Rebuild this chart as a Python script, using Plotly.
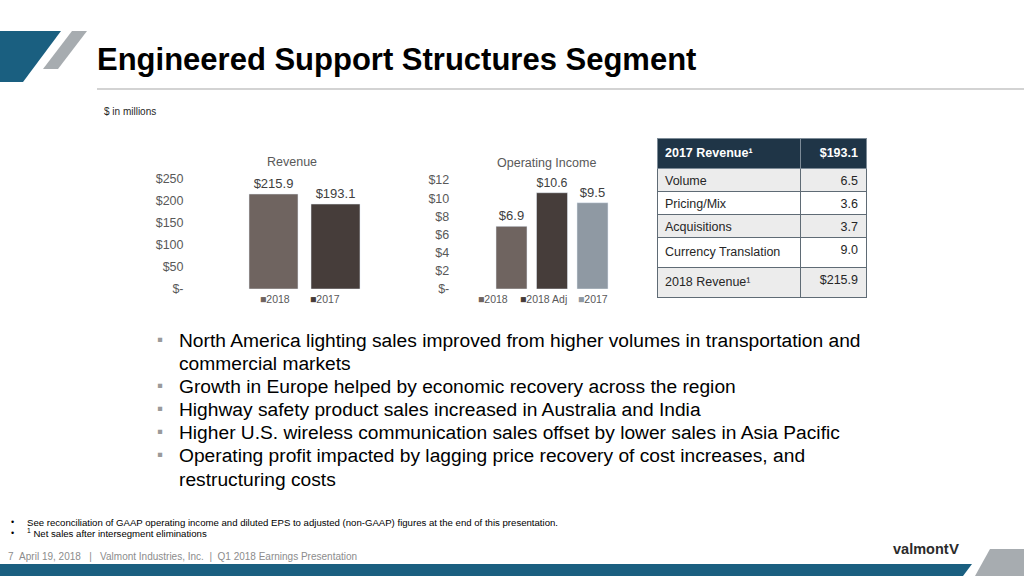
import plotly.graph_objects as go

# ---------------- data ----------------
rev_series = ["2018", "2017"]
rev_values = [215.9, 193.1]
rev_tickvals = [0, 50, 100, 150, 200, 250]
rev_ticktext = ["$-", "$50", "$100", "$150", "$200", "$250"]

oi_series = ["2018", "2018 Adj", "2017"]
oi_values = [6.9, 10.6, 9.5]
oi_tickvals = [0, 2, 4, 6, 8, 10, 12]
oi_ticktext = ["$-", "$2", "$4", "$6", "$8", "$10", "$12"]

tbl_header = ["2017 Revenue¹", "$193.1"]
tbl_labels = ["Volume", "Pricing/Mix", "Acquisitions", "Currency Translation", "2018 Revenue¹"]
tbl_values = ["6.5", "3.6", "3.7", "9.0", "$215.9"]

bullets = [
    ["North America lighting sales improved from higher volumes in transportation and",
     "commercial markets"],
    ["Growth in Europe helped by economic recovery across the region"],
    ["Highway safety product sales increased in Australia and India"],
    ["Higher U.S. wireless communication sales offset by lower sales in Asia Pacific"],
    ["Operating profit impacted by lagging price recovery of cost increases, and",
     "restructuring costs"],
]
footnotes = [
    "See reconciliation of GAAP operating income and diluted EPS to adjusted (non-GAAP) figures at the end of this presentation.",
    "<sup>1</sup> Net sales after intersegment eliminations",
]

# ---------------- styles ----------------
W, H = 1024, 576
FONT = "Arial, Liberation Sans, sans-serif"
C_TAUPE = "#6f6460"
C_DARK = "#463d3a"
C_BLUEGRAY = "#8f99a3"
rev_colors = [C_TAUPE, C_DARK]
oi_colors = [C_TAUPE, C_DARK, C_BLUEGRAY]
GRAY_TXT = "#595959"


def X(px):
    return px / W


def Y(py):
    return 1 - py / H


fig = go.Figure()

# Revenue bars
for s, v, c in zip(rev_series, rev_values, rev_colors):
    fig.add_trace(go.Bar(
        x=[s], y=[v], name=s, marker_color=c, width=0.79,
        text=[v], texttemplate="$%{y:.1f}", textposition="outside",
        textfont=dict(size=13, color="#404040", family=FONT),
        cliponaxis=False, showlegend=False, xaxis="x", yaxis="y",
    ))

# Operating income bars
for s, v, c in zip(oi_series, oi_values, oi_colors):
    fig.add_trace(go.Bar(
        x=[s], y=[v], name=s, marker_color=c, width=0.765,
        text=[v], texttemplate="$%{y:.1f}", textposition="outside",
        textfont=dict(size=13, color="#404040", family=FONT),
        cliponaxis=False, showlegend=False, xaxis="x2", yaxis="y2",
    ))

# Table (last two rows are taller in the original)
cell_labels = [l + ("<br>" if i >= 3 else "") for i, l in enumerate(tbl_labels)]
fig.add_trace(go.Table(
    domain=dict(x=[X(657), X(866)], y=[Y(320), Y(138)]),
    columnwidth=[143, 66],
    header=dict(
        values=["<b>%s</b>" % t for t in tbl_header],
        fill_color="#1f3547",
        line=dict(color="#7d8b97", width=1),
        font=dict(color="white", size=12.5, family=FONT),
        align=["left", "right"], height=30,
    ),
    cells=dict(
        values=[cell_labels, tbl_values],
        fill_color=[["#ececec", "#ffffff", "#ececec", "#ffffff", "#ececec"]] * 2,
        line=dict(color="#5f6b75", width=1),
        font=dict(color="#262626", size=12.5, family=FONT),
        align=["left", "right"], height=23,
    ),
))

axis_common = dict(showgrid=False, zeroline=False, showline=False, fixedrange=True, automargin=False)
fig.update_layout(
    width=W, height=H,
    margin=dict(l=0, r=0, t=0, b=0, pad=0, autoexpand=False),
    paper_bgcolor="white", plot_bgcolor="rgba(0,0,0,0)",
    barmode="overlay",
    font=dict(family=FONT, color=GRAY_TXT),
    showlegend=False,
    xaxis=dict(domain=[X(242.5), X(366.5)], range=[-0.5, 1.5], type="category",
               showticklabels=False, ticks="", **axis_common),
    yaxis=dict(domain=[Y(289), Y(179)], range=[0, 250], tickvals=rev_tickvals,
               ticktext=rev_ticktext, ticks="", ticklabelstandoff=58,
               tickfont=dict(size=12.5, color=GRAY_TXT), **axis_common),
    xaxis2=dict(domain=[X(491.25), X(612.75)], range=[-0.5, 2.5], type="category",
                showticklabels=False, ticks="", anchor="y2", **axis_common),
    yaxis2=dict(domain=[Y(289), Y(180)], range=[0, 12], tickvals=oi_tickvals,
                ticktext=oi_ticktext, ticks="", ticklabelstandoff=41, anchor="x2",
                tickfont=dict(size=12.5, color=GRAY_TXT), **axis_common),
)

shapes = []
# top-left logo shapes
shapes.append(dict(type="path", xref="paper", yref="paper",
                   path=f"M {X(0)},{Y(31)} L {X(61)},{Y(31)} L {X(23)},{Y(82)} L {X(0)},{Y(82)} Z",
                   fillcolor="#1a5f80", line=dict(width=0)))
shapes.append(dict(type="path", xref="paper", yref="paper",
                   path=f"M {X(72)},{Y(31)} L {X(87)},{Y(31)} L {X(58)},{Y(69)} L {X(43)},{Y(69)} Z",
                   fillcolor="#a7acb0", line=dict(width=0)))
# title rule
shapes.append(dict(type="line", xref="paper", yref="paper", x0=X(97), x1=X(1024), y0=Y(89), y1=Y(89),
                   line=dict(color="#c4c4c4", width=1.5)))
# bottom band
shapes.append(dict(type="path", xref="paper", yref="paper",
                   path=f"M {X(0)},{Y(564)} L {X(972)},{Y(564)} L {X(963)},{Y(576)} L {X(0)},{Y(576)} Z",
                   fillcolor="#1a5f80", line=dict(width=0)))
shapes.append(dict(type="path", xref="paper", yref="paper",
                   path=f"M {X(990)},{Y(549)} L {X(1024)},{Y(549)} L {X(1024)},{Y(576)} L {X(975)},{Y(576)} Z",
                   fillcolor="#a7acb0", line=dict(width=0)))
fig.update_layout(shapes=shapes)

ann = []


def text(px, py, t, size, color="#000000", anchor="left", yanchor="middle"):
    ann.append(dict(x=X(px), y=Y(py), xref="paper", yref="paper", text=t, showarrow=False,
                    xanchor=anchor, yanchor=yanchor, font=dict(size=size, color=color, family=FONT)))


text(95, 60, "<b>Engineered Support Structures Segment</b>", 31, "#000000")
text(102, 111, "$ in millions", 10, "#262626")

# chart titles
text(292, 162, "Revenue", 12.5, GRAY_TXT, "center")
text(546, 163, "Operating Income", 12.5, GRAY_TXT, "center")

# legends
for px, s, c in zip([258, 308], rev_series, rev_colors):
    text(px, 299, f"<span style='color:{c}'>■</span>{s}", 10.5, GRAY_TXT)
for px, s, c in zip([476, 518, 576], oi_series, oi_colors):
    text(px, 299, f"<span style='color:{c}'>■</span>{s}", 10.5, GRAY_TXT)

# bullets
py = 340
for b in bullets:
    text(155, py - 1, "▪", 17, "#9a9a9a")
    for line in b:
        text(177, py, line, 19.2, "#000000")
        py += 23.2

# footnotes
for i, f in enumerate(footnotes):
    text(9, 522 + 11 * i, "•", 9, "#000000")
    text(25, 522 + 11 * i, f, 9.6, "#000000")

text(6, 556, "7\u00a0\u00a0April 19, 2018\u00a0\u00a0\u00a0|\u00a0\u00a0\u00a0Valmont Industries, Inc.\u00a0\u00a0|\u00a0\u00a0Q1 2018 Earnings Presentation",
     10, "#8c8c8c")

# valmont logo text
text(891, 549, "<b>valmont</b>", 14.5, "#2b2b2b")
text(947, 548, "<b>V</b>", 15, "#2b2b2b")

fig.update_layout(annotations=ann)

post = (
    "document.documentElement.style.margin='0';document.documentElement.style.padding='0';"
    "document.documentElement.style.overflow='hidden';"
    "document.body.style.margin='0';document.body.style.padding='0';document.body.style.overflow='hidden';"
    "var d=document.getElementById('{plot_id}');d.style.position='fixed';d.style.top='0px';d.style.left='0px';"
)
fig.write_html("out.html", post_script=post, config={"displayModeBar": False})
